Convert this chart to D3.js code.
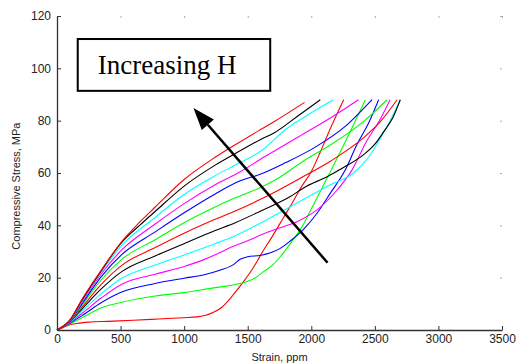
<!DOCTYPE html>
<html>
<head>
<meta charset="utf-8">
<script src="https://cdn.jsdelivr.net/npm/d3@7"></script>
<style>
  body { margin: 0; background: #fff; }
  svg { display: block; font-family: "Liberation Sans", Arial, sans-serif; }
</style>
</head>
<body>
<svg id="chart" width="517" height="364"></svg>
<script>
// strain (ppm), stress (MPa) per curve, lowest H first
const c1 = [[0,0],[50,1],[100,2],[155,2.5],[250,3],[400,3.3],[600,3.7],[800,4.2],[996,4.7],[1100,5],[1170,5.6],[1230,6.8],[1300,8.8],[1362,12],[1420,15.5],[1467,18.5],[1546,24],[1612,29.5],[1690,35.5],[1782,43],[1850,48.5],[1913,54],[2005,61],[2071,68],[2150,77],[2255,88]];
const c2 = [[0,0],[100,2.3],[200,4.8],[350,8.5],[509,10.6],[772,13],[1000,14.3],[1244,16.2],[1362,17],[1494,18.5],[1560,20],[1625,22.3],[1700,25],[1756,28],[1835,33],[1927,39.5],[2018,48],[2150,60.5],[2281,73.3],[2425,88]];
const c3 = [[0,0],[100,2.6],[200,5.6],[350,10.5],[509,14.5],[772,17.8],[1000,19.8],[1150,21],[1280,22.8],[1388,25],[1440,27],[1500,28],[1598,28.5],[1680,29.5],[1756,31.2],[1835,34],[1950,39],[2045,44.6],[2150,52.3],[2268,61.2],[2360,71],[2450,79],[2530,88]];
const c4 = [[0,0],[100,2.8],[200,6.5],[350,12.3],[509,17.5],[772,21.3],[1000,24.3],[1150,26.8],[1300,30],[1362,31.5],[1494,34],[1625,36.8],[1750,39],[1887,41.4],[2045,45.9],[2203,53.5],[2321,61.2],[2439,72.5],[2530,79.5],[2620,88]];
const c5 = [[0,0],[100,3],[200,7.4],[350,14],[509,19.8],[772,24.8],[1000,28.7],[1244,33],[1402,36],[1625,41.5],[1887,48.5],[2150,55.5],[2333,60],[2450,66],[2543,73.3],[2620,80],[2700,88]];
const c6 = [[0,0],[100,3.1],[200,8.2],[350,15.8],[509,22.3],[772,28.3],[1000,33],[1244,38],[1402,41],[1625,46],[1835,51],[1939,54.3],[2124,58.6],[2250,62],[2412,67],[2500,71],[2570,75.8],[2640,81],[2700,88]];
const c7 = [[0,0],[100,3.2],[200,8.9],[350,17.5],[509,24.7],[772,31.5],[1000,37],[1244,42.3],[1402,45.5],[1625,50.5],[1913,58],[2150,64.5],[2412,73.5],[2550,80],[2675,88]];
const c8 = [[0,0],[100,3.3],[200,9.6],[350,19.3],[509,27],[772,34.5],[1000,41],[1244,47],[1402,50.5],[1625,55],[1756,58.5],[1950,65],[2150,70.7],[2412,79.7],[2596,88]];
const c9 = [[0,0],[100,3.4],[200,10.2],[350,20.5],[509,28.8],[772,37.5],[1000,44.8],[1244,52],[1441,57],[1598,59.5],[1800,64],[2018,69.5],[2281,78.4],[2478,88]];
const c10 = [[0,0],[100,3.5],[200,10.8],[350,21.6],[509,30.6],[772,40.5],[1000,48.3],[1244,55.5],[1441,60.5],[1625,66],[1887,73.5],[2150,81],[2372,88]];
const c11 = [[0,0],[100,3.6],[200,11.3],[350,22.4],[509,32.3],[772,43],[1000,51.8],[1244,59],[1441,64],[1598,68.2],[1808,77],[2000,83],[2173,88]];
const c12 = [[0,0],[100,3.7],[200,11.7],[350,22.8],[509,33.5],[650,40],[772,45.3],[1000,55],[1244,63],[1441,68.5],[1598,72.7],[1703,75.2],[1900,82],[2071,88]];
const c13 = [[0,0],[100,3.8],[200,12],[350,23],[509,33.8],[650,41.2],[772,47],[1000,57.5],[1244,66],[1402,70.8],[1598,76.5],[1703,79.5],[1947,87]];

const curves = [c1, c2, c3, c4, c5, c6, c7, c8, c9, c10, c11, c12, c13];
const curveColors = ["#ff0000", "#00ff00", "#0000ff", "#ff00ff", "#00ffff", "#000000"];

const xTicks = [0, 500, 1000, 1500, 2000, 2500, 3000, 3500];
const yTicks = [0, 20, 40, 60, 80, 100, 120];

// annotation: arrow tail/tip and label box, in data units
const arrowTail = [2128, 25.7];
const arrowTip = [1073, 84.8];
const boxCorners = [[163, 111.2], [1677, 91.4]];
const boxLabel = "Increasing H";

const svg = d3.select("#chart");
const margin = { top: 16, right: 15, bottom: 34, left: 57 };
const width = +svg.attr("width") - margin.left - margin.right;
const height = +svg.attr("height") - margin.top - margin.bottom;

const x = d3.scaleLinear().domain([0, 3500]).range([margin.left, margin.left + width]);
const y = d3.scaleLinear().domain([0, 120]).range([margin.top + height, margin.top]);

// faint ticks on top and right edges
svg.append("g")
    .attr("transform", "translate(0," + margin.top + ")")
    .call(d3.axisTop(x).tickValues(xTicks).tickSizeInner(-2).tickSizeOuter(0).tickFormat(""))
    .call(g => g.select(".domain").remove())
    .call(g => g.selectAll("line").attr("stroke", "#aaa"));
svg.append("g")
    .attr("transform", "translate(" + (margin.left + width) + ",0)")
    .call(d3.axisRight(y).tickValues(yTicks).tickSizeInner(-2).tickSizeOuter(0).tickFormat(""))
    .call(g => g.select(".domain").remove())
    .call(g => g.selectAll("line").attr("stroke", "#aaa"));

// curves
const line = d3.line()
    .x(d => x(d[0]))
    .y(d => y(d[1]))
    .curve(d3.curveMonotoneX);

svg.append("g")
    .selectAll("path")
    .data(curves)
    .enter().append("path")
    .attr("d", line)
    .attr("fill", "none")
    .attr("stroke", (d, i) => curveColors[i % curveColors.length])
    .attr("stroke-width", 1.1);

// axes
const xAxis = svg.append("g")
    .attr("transform", "translate(0," + (margin.top + height) + ")")
    .call(d3.axisBottom(x).tickValues(xTicks).tickFormat(d3.format("d"))
        .tickSizeInner(-4).tickSizeOuter(0).tickPadding(4));
const yAxis = svg.append("g")
    .attr("transform", "translate(" + margin.left + ",0)")
    .call(d3.axisLeft(y).tickValues(yTicks).tickFormat(d3.format("d"))
        .tickSizeInner(-4).tickSizeOuter(0).tickPadding(6));

[xAxis, yAxis].forEach(g => {
    g.select(".domain").attr("stroke", "#333").attr("stroke-width", 1.3);
    g.selectAll("line").attr("stroke", "#333");
    g.selectAll("text").attr("font-size", 12).attr("fill", "#222")
        .attr("font-family", "'Liberation Sans', Arial, sans-serif");
});

svg.append("text")
    .attr("x", x(1750))
    .attr("y", 361)
    .attr("text-anchor", "middle")
    .attr("font-size", 11)
    .attr("fill", "#222")
    .text("Strain, ppm");

svg.append("text")
    .attr("transform", "translate(20," + y(55) + ") rotate(-90)")
    .attr("text-anchor", "middle")
    .attr("font-size", 11)
    .attr("fill", "#222")
    .text("Compressive Stress, MPa");

// label box
svg.append("rect")
    .attr("x", x(boxCorners[0][0]))
    .attr("y", y(boxCorners[0][1]))
    .attr("width", x(boxCorners[1][0]) - x(boxCorners[0][0]))
    .attr("height", y(boxCorners[1][1]) - y(boxCorners[0][1]))
    .attr("fill", "#fff")
    .attr("stroke", "#000")
    .attr("stroke-width", 2);

svg.append("text")
    .attr("x", x(boxCorners[0][0]) + 20)
    .attr("y", y(boxCorners[1][1]) - 17)
    .attr("font-family", "'Liberation Serif', 'Times New Roman', serif")
    .attr("font-size", 27)
    .attr("fill", "#000")
    .text(boxLabel);

// arrow
const tx = x(arrowTail[0]), ty = y(arrowTail[1]);
const hx = x(arrowTip[0]), hy = y(arrowTip[1]);
const ang = Math.atan2(hy - ty, hx - tx);
const headLen = 22, headHalf = 8;
const bx = hx - headLen * Math.cos(ang), by = hy - headLen * Math.sin(ang);

svg.append("line")
    .attr("x1", tx).attr("y1", ty)
    .attr("x2", bx).attr("y2", by)
    .attr("stroke", "#000")
    .attr("stroke-width", 2.5);

svg.append("path")
    .attr("d", d3.line()([
        [hx, hy],
        [bx + headHalf * Math.sin(ang), by - headHalf * Math.cos(ang)],
        [bx - headHalf * Math.sin(ang), by + headHalf * Math.cos(ang)]
    ]) + "Z")
    .attr("fill", "#000");
</script>
</body>
</html>
